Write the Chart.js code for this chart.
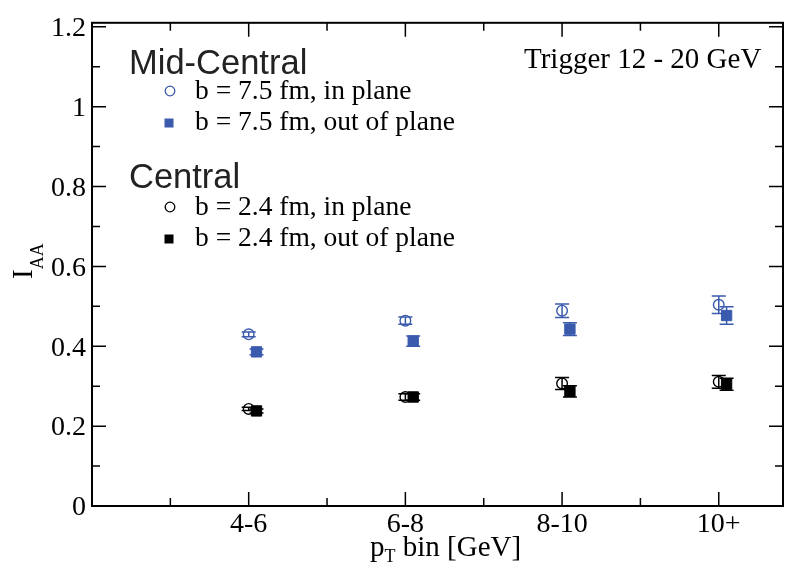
<!DOCTYPE html>
<html>
<head>
<meta charset="utf-8">
<script src="https://cdn.jsdelivr.net/npm/chart.js@4/dist/chart.umd.min.js"></script>
<style>
html,body{margin:0;padding:0;background:#fff;}
#wrap{width:792px;height:571px;position:relative;}
</style>
</head>
<body>
<div id="wrap"><canvas id="c" width="792" height="571"></canvas></div>
<script>
// ---- data ----
const categories = ["4-6", "6-8", "8-10", "10+"];
const categoryPos = [1, 2, 3, 4];
const squareShift = 0.05;

const midInPlane      = [0.430, 0.464, 0.489, 0.504];
const midInPlaneErr   = [0.006, 0.009, 0.017, 0.022];
const midOutPlane     = [0.386, 0.413, 0.443, 0.477];
const midOutPlaneErr  = [0.007, 0.013, 0.016, 0.022];
const cenInPlane      = [0.243, 0.273, 0.307, 0.311];
const cenInPlaneErr   = [0.004, 0.008, 0.015, 0.016];
const cenOutPlane     = [0.238, 0.273, 0.287, 0.305];
const cenOutPlaneErr  = [0.005, 0.008, 0.014, 0.015];

const yTickValues = [0, 0.2, 0.4, 0.6, 0.8, 1.0, 1.2];
const yTickLabels = ["0", "0.2", "0.4", "0.6", "0.8", "1", "1.2"];
const yMinorValues = [0.1, 0.3, 0.5, 0.7, 0.9, 1.1];
const xMinorValues = [0.5, 1.5, 2.5, 3.5];

const seriesLabels = [
  "b = 7.5 fm, in plane",
  "b = 7.5 fm, out of plane",
  "b = 2.4 fm, in plane",
  "b = 2.4 fm, out of plane"
];
const groupLabels = ["Mid-Central", "Central"];
const annotation = "Trigger 12 - 20 GeV";

// ---- styles ----
const BLUE = "#3a5aad";
const BLACK = "#000000";
const SERIF = "'Liberation Serif', 'Times New Roman', serif";
const SANS = "'Liberation Sans', Arial, sans-serif";

function pts(vals, shift, errs) {
  return vals.map((v, i) => ({ x: categoryPos[i] + shift, y: v, err: errs[i] }));
}

const datasets = [
  { label: seriesLabels[0], data: pts(midInPlane, 0, midInPlaneErr), pointStyle: "circle", pointRadius: 5.3,
    borderColor: BLUE, backgroundColor: "rgba(0,0,0,0)", pointBorderWidth: 1.4 },
  { label: seriesLabels[1], data: pts(midOutPlane, squareShift, midOutPlaneErr), pointStyle: "rect", pointRadius: 7.3,
    borderColor: BLUE, backgroundColor: BLUE, pointBorderWidth: 1 },
  { label: seriesLabels[2], data: pts(cenInPlane, 0, cenInPlaneErr), pointStyle: "circle", pointRadius: 5.3,
    borderColor: BLACK, backgroundColor: "rgba(0,0,0,0)", pointBorderWidth: 1.4 },
  { label: seriesLabels[3], data: pts(cenOutPlane, squareShift, cenOutPlaneErr), pointStyle: "rect", pointRadius: 7.3,
    borderColor: BLACK, backgroundColor: BLACK, pointBorderWidth: 1 }
];

const errorBars = {
  id: "errorBars",
  beforeDatasetsDraw(chart) {
    const ctx = chart.ctx, xs = chart.scales.x, ys = chart.scales.y;
    ctx.save();
    chart.data.datasets.forEach(ds => {
      ctx.strokeStyle = ds.borderColor;
      ctx.lineWidth = 1.5;
      ds.data.forEach(p => {
        const px = xs.getPixelForValue(p.x);
        const y1 = ys.getPixelForValue(p.y - p.err);
        const y2 = ys.getPixelForValue(p.y + p.err);
        ctx.beginPath();
        ctx.moveTo(px, y1); ctx.lineTo(px, y2);
        ctx.moveTo(px - 7, y1); ctx.lineTo(px + 7, y1);
        ctx.moveTo(px - 7, y2); ctx.lineTo(px + 7, y2);
        ctx.stroke();
      });
    });
    ctx.restore();
  }
};

const frame = {
  id: "frame",
  afterDraw(chart) {
    const ctx = chart.ctx, a = chart.chartArea, xs = chart.scales.x, ys = chart.scales.y;
    ctx.save();
    ctx.strokeStyle = "#000";
    ctx.lineWidth = 2;
    ctx.strokeRect(a.left, a.top, a.right - a.left, a.bottom - a.top);
    ctx.lineWidth = 1.5;
    ctx.beginPath();
    const tick = (vals, len) => {
      vals.forEach(v => {
        const py = ys.getPixelForValue(v);
        ctx.moveTo(a.left, py); ctx.lineTo(a.left + len, py);
        ctx.moveTo(a.right, py); ctx.lineTo(a.right - len, py);
      });
    };
    const tickX = (vals, len) => {
      vals.forEach(v => {
        const px = xs.getPixelForValue(v);
        ctx.moveTo(px, a.bottom); ctx.lineTo(px, a.bottom - len);
        ctx.moveTo(px, a.top); ctx.lineTo(px, a.top + len);
      });
    };
    tick(yTickValues, 14); tick(yMinorValues, 8);
    tickX(categoryPos, 14); tickX(xMinorValues, 8);
    ctx.stroke();

    // annotation texts
    ctx.fillStyle = "#000";
    ctx.textBaseline = "alphabetic";
    ctx.textAlign = "left";
    ctx.font = "29px " + SERIF;
    ctx.fillText(annotation, 524, 68);

    ctx.fillStyle = "#222";
    ctx.font = "34.5px " + SANS;
    ctx.fillText(groupLabels[0], 129, 74);
    ctx.fillText(groupLabels[1], 129, 188);

    // legend entries
    ctx.font = "27.5px " + SERIF;
    const rows = [98.5, 130, 215, 245.5];
    const symY = [91, 123, 207, 239];
    rows.forEach((yb, i) => {
      const ds = chart.data.datasets[i];
      ctx.fillStyle = "#000";
      ctx.fillText(ds.label, 195, yb);
      ctx.strokeStyle = ds.borderColor;
      ctx.fillStyle = ds.backgroundColor;
      if (ds.pointStyle === "circle") {
        ctx.lineWidth = 1.3;
        ctx.beginPath(); ctx.arc(170, symY[i], 4.8, 0, Math.PI * 2); ctx.stroke();
      } else {
        ctx.fillRect(169 - 4.5, symY[i] - 4.5, 9, 9);
      }
    });

    // x axis title
    ctx.fillStyle = "#000";
    ctx.font = "29px " + SERIF;
    let x = 370;
    ctx.fillText("p", x, 556);
    x += ctx.measureText("p").width;
    ctx.font = "18px " + SERIF;
    ctx.fillText("T", x, 562);
    x += ctx.measureText("T").width;
    ctx.font = "29px " + SERIF;
    ctx.fillText(" bin [GeV]", x, 556);

    // y axis title
    ctx.translate(32, 279);
    ctx.rotate(-Math.PI / 2);
    ctx.font = "29px " + SERIF;
    ctx.fillText("I", 0, 0);
    const wI = ctx.measureText("I").width;
    ctx.font = "18px " + SERIF;
    ctx.fillText("AA", wI, 11);
    ctx.restore();
  }
};

new Chart(document.getElementById("c"), {
  type: "scatter",
  data: { datasets },
  options: {
    responsive: false,
    animation: false,
    devicePixelRatio: 1,
    events: [],
    layout: { padding: { left: 0, top: 13, right: 9, bottom: 0 } },
    plugins: { legend: { display: false }, tooltip: { enabled: false } },
    scales: {
      x: {
        type: "linear",
        min: 0, max: 4.41,
        grid: { display: false, drawTicks: false },
        border: { display: false },
        afterFit(scale) { scale.height = 65; },
        afterBuildTicks(scale) { scale.ticks = categoryPos.map(v => ({ value: v })); },
        ticks: {
          padding: 2,
          color: "#000",
          font: { family: SERIF, size: 28 },
          callback: (v) => { const i = categoryPos.indexOf(v); return i >= 0 ? categories[i] : ""; },
          maxRotation: 0, autoSkip: false
        }
      },
      y: {
        type: "linear",
        min: 0, max: 1.21,
        grid: { display: false, drawTicks: false },
        border: { display: false },
        afterFit(scale) { scale.width = 92; },
        afterBuildTicks(scale) { scale.ticks = yTickValues.map(v => ({ value: v })); },
        ticks: {
          padding: 6,
          labelOffset: 2,
          color: "#000",
          font: { family: SERIF, size: 28 },
          callback: (v) => { const i = yTickValues.indexOf(v); return i >= 0 ? yTickLabels[i] : ""; },
          autoSkip: false
        }
      }
    }
  },
  plugins: [errorBars, frame]
});
</script>
</body>
</html>
